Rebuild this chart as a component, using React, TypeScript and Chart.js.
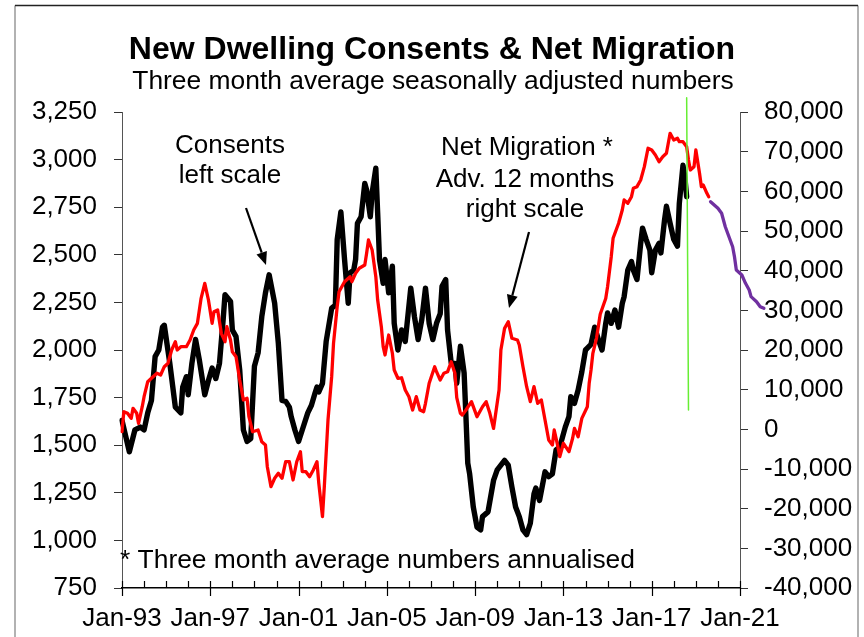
import React, { useEffect, useRef } from "react";
import { Chart, registerables } from "chart.js";

Chart.register(...registerables);

const FONT = "'Liberation Sans', Arial, Helvetica, sans-serif";

const titleText = "New Dwelling Consents & Net Migration";
const subtitleText = "Three month average seasonally adjusted numbers";
const consentsNote = ["Consents", "left scale"];
const migrationNote = ["Net Migration *", "Adv. 12 months", "right scale"];
const footnote = "* Three month average numbers annualised";

// Axis ticks
const xRange = [1993, 2021];
const xTickYears = [1993, 1997, 2001, 2005, 2009, 2013, 2017, 2021];
const leftTicks = [750, 1000, 1250, 1500, 1750, 2000, 2250, 2500, 2750, 3000, 3250];
const rightTicks = [-40000, -30000, -20000, -10000, 0, 10000, 20000, 30000, 40000, 50000, 60000, 70000, 80000];

// New dwelling consents (3 month average, s.a.) – left scale
const consentsMonths = [
  "1993-01","1993-05","1993-08","1993-11","1994-01","1994-03","1994-05","1994-07","1994-09","1994-11",
  "1994-12","1995-03","1995-06","1995-09","1995-10","1995-12","1996-01","1996-03","1996-05","1996-07",
  "1996-10","1996-12","1997-02","1997-04","1997-06","1997-08","1997-09","1997-12","1998-01","1998-03",
  "1998-05","1998-07","1998-09","1998-11","1999-01","1999-03","1999-05","1999-07","1999-09","1999-12",
  "2000-02","2000-04","2000-06","2000-08","2000-09","2000-11","2001-01","2001-03","2001-06","2001-08",
  "2001-10","2001-11","2001-12","2002-02","2002-04","2002-07","2002-09","2002-10","2002-12","2003-02",
  "2003-04","2003-05","2003-07","2003-08","2003-09","2003-11","2004-01","2004-02","2004-04","2004-05",
  "2004-07","2004-08","2004-09","2004-11","2004-12","2005-02","2005-04","2005-05","2005-07","2005-09",
  "2005-11","2006-02","2006-04","2006-06","2006-08","2006-10","2006-12","2007-02","2007-04","2007-06",
  "2007-07","2007-09","2007-10","2007-12","2008-02","2008-03","2008-05","2008-07","2008-08","2008-09",
  "2008-10","2008-12","2009-02","2009-04","2009-05","2009-08","2009-11","2010-01","2010-03","2010-05",
  "2010-07","2010-09","2010-11","2011-01","2011-03","2011-05","2011-07","2011-09","2011-10","2011-12",
  "2012-03","2012-05","2012-07","2012-09","2012-11","2013-02","2013-04","2013-05","2013-07","2013-09",
  "2013-11","2014-01","2014-02","2014-04","2014-06","2014-08","2014-10","2014-12","2015-01","2015-03",
  "2015-05","2015-07","2015-09","2015-10","2015-12","2016-02","2016-03","2016-05","2016-07","2016-08",
  "2016-10","2016-12","2017-01","2017-03","2017-05","2017-06","2017-08","2017-09","2017-11","2018-01",
  "2018-03","2018-04","2018-06","2018-07","2018-08",
];
const consentsValues = [
  1630, 1465, 1580, 1595, 1580, 1670, 1735, 1965, 2000, 2120,
  2130, 1930, 1700, 1670, 1805, 1860, 1765, 1930, 2055, 1950,
  1765, 1840, 1905, 1850, 1930, 2160, 2290, 2255, 2105, 2070,
  1895, 1580, 1520, 1535, 1915, 1985, 2175, 2300, 2395, 2245,
  2035, 1735, 1730, 1700, 1650, 1580, 1520, 1580, 1670, 1710,
  1775, 1805, 1780, 1825, 2045, 2220, 2235, 2580, 2725, 2475,
  2245, 2405, 2420, 2475, 2665, 2700, 2875, 2840, 2700, 2825,
  2955, 2720, 2475, 2350, 2475, 2300, 2440, 2140, 2000, 2105,
  2045, 2325, 2175, 2055, 2160, 2325, 2140, 2055, 2140, 2190,
  2335, 2370, 2105, 1930, 1930, 1825, 2020, 1880, 1650, 1405,
  1350, 1175, 1070, 1055, 1125, 1150, 1315, 1370, 1395, 1420,
  1395, 1280, 1175, 1125, 1055, 1030, 1090, 1245, 1275, 1210,
  1360, 1335, 1350, 1475, 1490, 1595, 1650, 1755, 1720, 1790,
  1885, 2000, 2010, 2030, 2120, 2055, 2000, 2140, 2195, 2140,
  2210, 2120, 2245, 2280, 2420, 2465, 2420, 2370, 2560, 2640,
  2580, 2525, 2405, 2525, 2560, 2510, 2685, 2755, 2665, 2580,
  2545, 2770, 2970, 2910, 2805,
];

// Net migration (annualised, advanced 12 months) – right scale
const migrationMonths = [
  "1993-01","1993-02","1993-04","1993-06","1993-07","1993-09","1993-10","1993-12","1994-01","1994-03",
  "1994-05","1994-08","1994-10","1994-12","1995-02","1995-04","1995-06","1995-07","1995-09","1995-12",
  "1996-02","1996-04","1996-06","1996-08","1996-10","1996-12","1997-02","1997-03","1997-05","1997-07",
  "1997-09","1997-10","1997-12","1998-01","1998-03","1998-05","1998-07","1998-09","1998-10","1998-12",
  "1999-03","1999-05","1999-07","1999-08","1999-10","1999-12","2000-02","2000-04","2000-06","2000-08",
  "2000-10","2000-12","2001-02","2001-03","2001-05","2001-07","2001-09","2001-11","2001-12","2002-02",
  "2002-03","2002-05","2002-07","2002-08","2002-10","2002-11","2003-02","2003-05","2003-06","2003-08",
  "2003-10","2004-01","2004-02","2004-03","2004-05","2004-07","2004-08","2004-10","2004-11","2004-12",
  "2005-02","2005-04","2005-05","2005-07","2005-09","2005-11","2006-01","2006-03","2006-05","2006-07",
  "2006-09","2006-10","2006-12","2007-03","2007-04","2007-06","2007-08","2007-10","2007-12","2008-02",
  "2008-03","2008-05","2008-06","2008-08","2008-11","2009-02","2009-05","2009-07","2009-09","2009-11",
  "2010-02","2010-03","2010-05","2010-07","2010-09","2010-12","2011-01","2011-03","2011-05","2011-07",
  "2011-09","2011-11","2012-01","2012-03","2012-05","2012-07","2012-08","2012-10","2012-11","2013-01",
  "2013-04","2013-06","2013-07","2013-09","2013-11","2014-02","2014-03","2014-04","2014-05","2014-07",
  "2014-09","2014-12","2015-01","2015-03","2015-04","2015-07","2015-09","2015-10","2015-12","2016-02",
  "2016-03","2016-05","2016-07","2016-09","2016-11","2017-01","2017-03","2017-05","2017-07","2017-09",
  "2017-10","2017-11","2018-01","2018-03","2018-04","2018-06","2018-08","2018-09","2018-10","2018-12",
  "2019-01","2019-03","2019-04","2019-05","2019-07","2019-08",
];
const migrationValues = [
  -600, 4450, 4030, 2770, 5290, 4030, 1500, 5710, 8230, 12010,
  12870, 14130, 13700, 15790, 16650, 20000, 22090, 20000, 20830, 20830,
  22520, 25040, 26720, 33030, 36810, 32600, 26720, 29650, 30080, 24210,
  22090, 25880, 22520, 19570, 18310, 12440, 7400, 7820, 3190, -600,
  -170, -3120, -3950, -9420, -14460, -12340, -11080, -12340, -8160, -8160,
  -12770, -8160, -5640, -10680, -10680, -11940, -10250, -8160, -13620, -22020,
  -14460, 2350, 13270, 21680, 30920, 34700, 37220, 38480, 37220, 39340,
  40600, 41430, 44380, 47730, 45210, 38480, 32600, 25880, 20830, 18740,
  23780, 19170, 14960, 12870, 13000, 9920, 8230, 4870, 8230, 4870,
  4450, 6560, 11600, 15790, 14530, 12440, 14130, 14500, 17050, 14130,
  8000, 4030, 3610, 4870, 6970, 3190, 5710, 6970, 4030, 230,
  9920, 20000, 25450, 27130, 22950, 22520, 21260, 15790, 10750, 6970,
  10750, 6560, 7400, 2350, -2690, -3950, -170, -4380, -6900, -3520,
  -5640, -2260, 230, -1870, 2770, 5710, 11600, 14960, 19170, 23000,
  29000, 33000, 35960, 43520, 48160, 51940, 55290, 57820, 56980, 58650,
  60750, 61180, 62860, 66220, 70850, 70420, 69160, 67470, 68730, 69590,
  72110, 74630, 72940, 73370, 72510, 72510, 71250, 67900, 65380, 66220,
  70420, 64550, 61180, 61600, 59500, 58650,
];

// Projected net migration – right scale
const projectionMonths = [
  "2019-09","2020-01","2020-03","2020-05","2020-07","2020-09","2020-10","2020-11",
  "2021-02","2021-04","2021-06","2021-07","2021-10","2021-12","2022-02",
];
const projectionValues = [
  57390, 55720, 54460, 51080, 48560, 46040, 43520, 40170,
  38910, 36810, 35130, 33450, 32180, 30920, 30500,
];

// Vertical marker line (left scale units)
const markerMonths = ["2018-08", "2018-09"];
const markerValues = [3325, 1685];

const toYear = (m: string) => {
  const [y, mo] = m.split("-").map(Number);
  return y + (mo - 1) / 12;
};
const points = (months: string[], values: number[]) =>
  months.map((m, i) => ({ x: toYear(m), y: values[i] }));
const fmt = (v: number) => v.toLocaleString("en-US");

function arrow(ctx: CanvasRenderingContext2D, x1: number, y1: number, x2: number, y2: number) {
  const ang = Math.atan2(y2 - y1, x2 - x1);
  const len = 13;
  const half = 5.5;
  const bx = x2 - Math.cos(ang) * len;
  const by = y2 - Math.sin(ang) * len;
  ctx.beginPath();
  ctx.moveTo(x1, y1);
  ctx.lineTo(bx, by);
  ctx.lineWidth = 2.2;
  ctx.strokeStyle = "#000";
  ctx.stroke();
  ctx.beginPath();
  ctx.moveTo(x2, y2);
  ctx.lineTo(bx + Math.sin(ang) * half, by - Math.cos(ang) * half);
  ctx.lineTo(bx - Math.sin(ang) * half, by + Math.cos(ang) * half);
  ctx.closePath();
  ctx.fillStyle = "#000";
  ctx.fill();
}

const decorPlugin = {
  id: "decor",
  afterDraw(chart: any) {
    const { ctx, chartArea, scales } = chart;
    const xs = scales.x;
    ctx.save();

    // outer frame
    ctx.lineWidth = 1.5;
    ctx.strokeStyle = "#999";
    ctx.beginPath();
    ctx.moveTo(15, 637);
    ctx.lineTo(15, 5.5);
    ctx.moveTo(858, 5.5);
    ctx.lineTo(858, 637);
    ctx.stroke();
    ctx.strokeStyle = "#222";
    ctx.beginPath();
    ctx.moveTo(15, 5.5);
    ctx.lineTo(858, 5.5);
    ctx.stroke();

    // yearly tick marks on the date axis, longer at labelled years
    ctx.strokeStyle = "#000";
    ctx.lineWidth = 1.2;
    for (let yr = xRange[0]; yr <= xRange[1]; yr++) {
      const px = Math.round(xs.getPixelForValue(yr)) + 0.5;
      const major = xTickYears.includes(yr);
      ctx.beginPath();
      ctx.moveTo(px, chartArea.bottom - 7);
      ctx.lineTo(px, chartArea.bottom + (major ? 8 : 0));
      ctx.stroke();
    }

    // titles
    ctx.fillStyle = "#000";
    ctx.textAlign = "center";
    ctx.textBaseline = "alphabetic";
    ctx.font = `bold 32px ${FONT}`;
    ctx.fillText(titleText, 432, 59);
    ctx.font = `26.4px ${FONT}`;
    ctx.fillText(subtitleText, 433, 89);

    // series notes
    ctx.font = `26px ${FONT}`;
    ctx.fillText(consentsNote[0], 230, 153);
    ctx.fillText(consentsNote[1], 230, 183);
    ctx.fillText(migrationNote[0], 527, 155);
    ctx.fillText(migrationNote[1], 525, 187);
    ctx.fillText(migrationNote[2], 525, 217);

    ctx.textAlign = "left";
    ctx.font = `26.4px ${FONT}`;
    ctx.fillText(footnote, 120, 568);

    arrow(ctx, 246, 208, 266, 265);
    arrow(ctx, 529, 232, 509, 308);

    ctx.restore();
  },
};

export default function App() {
  const ref = useRef<HTMLCanvasElement | null>(null);

  useEffect(() => {
    if (!ref.current) return;
    const chart = new Chart(ref.current, {
      type: "line",
      data: {
        datasets: [
          {
            label: "Marker",
            data: points(markerMonths, markerValues),
            yAxisID: "y",
            borderColor: "#66ee33",
            borderWidth: 1.5,
            clip: false,
          },
          {
            label: "Net Migration",
            data: points(migrationMonths, migrationValues),
            yAxisID: "y1",
            borderColor: "#ff0000",
            borderWidth: 3.3,
          },
          {
            label: "Projection",
            data: points(projectionMonths, projectionValues),
            yAxisID: "y1",
            borderColor: "#7030a0",
            borderWidth: 3.3,
            clip: false,
          },
          {
            label: "Consents",
            data: points(consentsMonths, consentsValues),
            yAxisID: "y",
            borderColor: "#000000",
            borderWidth: 5.4,
          },
        ],
      },
      options: {
        responsive: false,
        animation: false,
        events: [],
        layout: { padding: { top: 112, left: 0, right: 0, bottom: 0 } },
        elements: {
          point: { radius: 0, hoverRadius: 0 },
          line: { tension: 0, borderJoinStyle: "round", borderCapStyle: "round", fill: false },
        },
        plugins: {
          legend: { display: false },
          tooltip: { enabled: false },
          title: { display: false },
        },
        scales: {
          x: {
            type: "linear",
            position: "bottom",
            bounds: "data",
            afterDataLimits: (s: any) => {
              s.min = xRange[0];
              s.max = xRange[1];
            },
            afterBuildTicks: (s: any) => {
              s.ticks = xTickYears.map((v) => ({ value: v }));
            },
            afterFit: (s: any) => {
              s.height = 49;
            },
            grid: { display: true, drawOnChartArea: false, drawTicks: false },
            border: { display: true, color: "#000", width: 1.6 },
            ticks: {
              autoSkip: false,
              maxRotation: 0,
              padding: 15,
              color: "#000",
              font: { family: FONT, size: 26 },
              callback: (v: any) => "Jan-" + String(v).slice(2),
            },
          },
          y: {
            type: "linear",
            position: "left",
            min: leftTicks[0],
            max: leftTicks[leftTicks.length - 1],
            bounds: "data",
            afterBuildTicks: (s: any) => {
              s.ticks = leftTicks.map((v) => ({ value: v }));
            },
            afterFit: (s: any) => {
              s.width = 122;
            },
            grid: { drawOnChartArea: false, drawTicks: true, tickLength: 8, tickColor: "#333", tickWidth: 1 },
            border: { display: true, color: "#555", width: 1 },
            ticks: {
              padding: 17,
              color: "#000",
              font: { family: FONT, size: 26 },
              callback: (v: any) => fmt(Number(v)),
            },
          },
          y1: {
            type: "linear",
            position: "right",
            min: rightTicks[0],
            max: rightTicks[rightTicks.length - 1],
            bounds: "data",
            afterBuildTicks: (s: any) => {
              s.ticks = rightTicks.map((v) => ({ value: v }));
            },
            afterFit: (s: any) => {
              s.width = 124;
            },
            grid: { drawOnChartArea: false, drawTicks: true, tickLength: 8, tickColor: "#333", tickWidth: 1 },
            border: { display: true, color: "#555", width: 1 },
            ticks: {
              padding: 16,
              color: "#000",
              font: { family: FONT, size: 26 },
              callback: (v: any) => fmt(Number(v)),
            },
          },
        },
      },
      plugins: [decorPlugin],
    });
    return () => chart.destroy();
  }, []);

  return (
    <div style={{ position: "fixed", left: 0, top: 0, width: 864, height: 637, background: "#fff" }}>
      <canvas ref={ref} width={864} height={637} style={{ display: "block", width: 864, height: 637 }} />
    </div>
  );
}
